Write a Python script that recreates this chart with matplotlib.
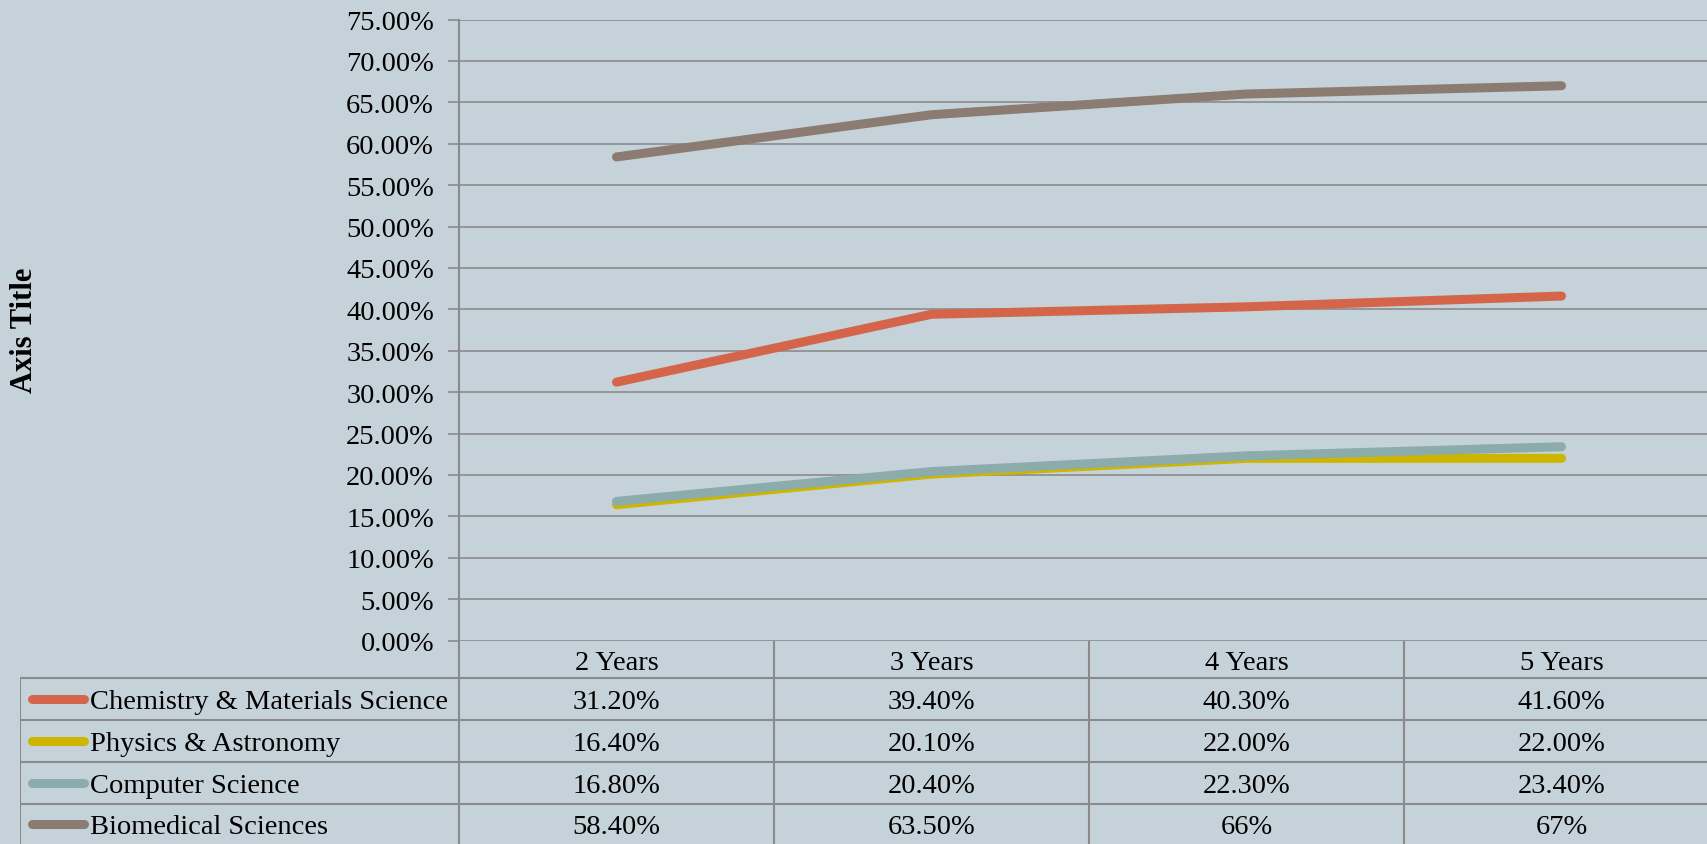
import matplotlib.pyplot as plt

years = ["2 Years", "3 Years", "4 Years", "5 Years"]
series_names = ["Chemistry & Materials Science", "Physics & Astronomy",
                "Computer Science", "Biomedical Sciences"]
chem = [31.2, 39.4, 40.3, 41.6]
phys = [16.4, 20.1, 22.0, 22.0]
comp = [16.8, 20.4, 22.3, 23.4]
bio = [58.4, 63.5, 66.0, 67.0]
chem_lbl = ["31.20%", "39.40%", "40.30%", "41.60%"]
phys_lbl = ["16.40%", "20.10%", "22.00%", "22.00%"]
comp_lbl = ["16.80%", "20.40%", "22.30%", "23.40%"]
bio_lbl = ["58.40%", "63.50%", "66%", "67%"]
colors = ["#D4654B", "#CDB500", "#8CABAB", "#8B7B70"]

bg = "#C6D2D9"
grid = "#8A8A8A"
plt.rcParams['font.family'] = ['Liberation Serif', 'DejaVu Serif']
fs = 20.5

W, H = 1708, 845
fig = plt.figure(figsize=(W / 100, H / 100), dpi=100, facecolor=bg)

# chart area; the last column runs past the right edge
x0, x1, ytop, ybot = 459, 1719, 20.5, 641.5
ax = fig.add_axes([x0 / W, 1 - ybot / H, (x1 - x0) / W, (ybot - ytop) / H])
ax.set_facecolor(bg)
xs = range(len(years))
all_vals = [chem, phys, comp, bio]
for vals, c in zip(all_vals, colors):
    ax.plot(xs, [v / 100 for v in vals], color=c, lw=6.5, solid_capstyle='round', zorder=3)
ax.set_xlim(-0.5, 3.5)
ax.set_ylim(0, 0.75)
ax.set_yticks([i * 0.05 for i in range(16)])
ax.set_yticklabels(["%.2f%%" % (i * 5) for i in range(16)], fontsize=fs)
ax.set_xticks([])
ax.grid(axis='y', color=grid, lw=1.2, zorder=0)
for s in ['top', 'right', 'bottom']:
    ax.spines[s].set_visible(False)
ax.spines['left'].set_color(grid)
ax.spines['left'].set_linewidth(1.5)
ax.tick_params(axis='y', length=8, width=1.2, color=grid, pad=10)
fig.text(25 / W, 1 - 330 / H, "Axis Title", rotation=90, fontsize=22,
         fontweight='bold', ha='center', va='center')

# data table under the chart
tx0 = 20
tb = fig.add_axes([tx0 / W, 0, (x1 - tx0) / W, (H - ybot) / H])
tb.set_facecolor(bg)
tb.axis('off')
leg_w = (x0 - tx0) / 315
lx = -0.5 - leg_w
tb.set_xlim(lx, 3.5)
tb.set_ylim(H - ybot, 0)
rows = [0, 37.5, 79.5, 121.5, 163.5, H - ybot]
for r in rows[1:5]:
    tb.plot([lx, 3.5], [r, r], color=grid, lw=1.5)
tb.plot([lx, lx], [rows[1], rows[5]], color=grid, lw=1.5)
for i in range(4):
    tb.plot([i - 0.5, i - 0.5], [0, rows[5]], color=grid, lw=1.5)
for i, y in enumerate(years):
    tb.text(i, (rows[0] + rows[1]) / 2 + 3, y, ha='center', va='center', fontsize=fs)
labels = [chem_lbl, phys_lbl, comp_lbl, bio_lbl]
for k in range(4):
    yc = (rows[k + 1] + rows[k + 2]) / 2
    tb.plot([lx + 12 / 315, lx + 64 / 315], [yc, yc], color=colors[k], lw=6.5,
            solid_capstyle='round')
    tb.text(lx + 70 / 315, yc + 3, series_names[k], ha='left', va='center', fontsize=fs)
    for i in range(4):
        tb.text(i, yc + 3, labels[k][i], ha='center', va='center', fontsize=fs)

fig.savefig("out.png", dpi=100, facecolor=bg)
